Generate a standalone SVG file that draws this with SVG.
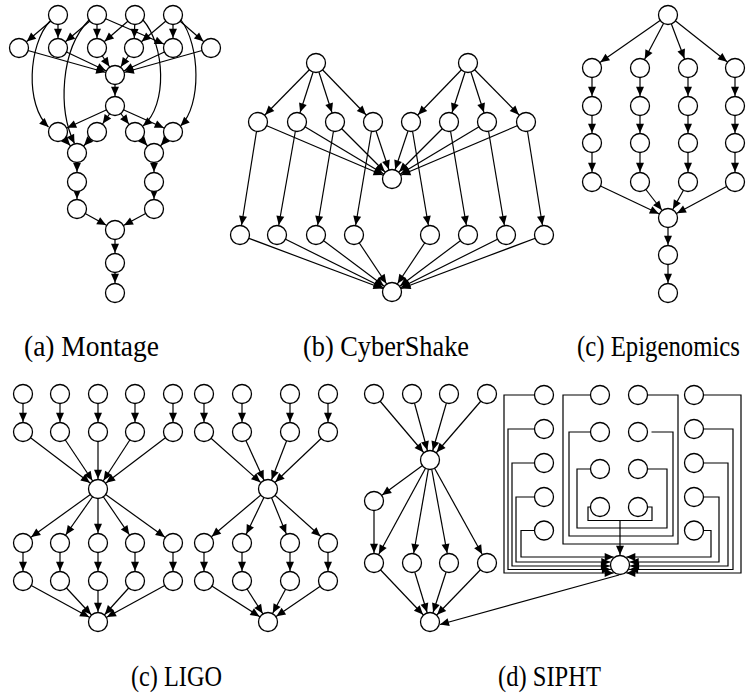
<svg xmlns="http://www.w3.org/2000/svg" width="750" height="697" viewBox="0 0 750 697">
<style>
  circle { fill: #fff; stroke: #000; stroke-width: 1.3; }
  .e { fill: none; stroke: #000; stroke-width: 1.2; marker-end: url(#ah); }
  .c { fill: none; stroke: #000; stroke-width: 1.2; marker-end: url(#ah0); }
  .w { fill: none; stroke: #000; stroke-width: 1.2; }
</style>
<defs>
  <!-- arrowhead whose tip stops on the rim of a r=9.5 node when the edge ends at the node centre -->
  <marker id="ah" markerUnits="userSpaceOnUse" orient="auto" refX="10.2" refY="0" markerWidth="12" markerHeight="10" overflow="visible">
    <path d="M0,0 L-9,-4 L-9,4 Z" fill="#000"/>
  </marker>
  <!-- arrowhead whose tip sits exactly on the path end -->
  <marker id="ah0" markerUnits="userSpaceOnUse" orient="auto" refX="0" refY="0" markerWidth="12" markerHeight="10" overflow="visible">
    <path d="M0,0 L-9,-4 L-9,4 Z" fill="#000"/>
  </marker>
</defs>

<g id="connectors">
  <!-- Montage -->
  <path class="e" d="M58,15 L19,48"/>
  <path class="e" d="M58,15 L58,48"/>
  <path class="e" d="M97,15 L58,48"/>
  <path class="e" d="M97,15 L97,48"/>
  <path class="e" d="M97,15 L173,48"/>
  <path class="e" d="M135,15 L97,48"/>
  <path class="e" d="M135,15 L134,48"/>
  <path class="e" d="M173,15 L134,48"/>
  <path class="e" d="M173,15 L173,48"/>
  <path class="e" d="M173,15 L211,48"/>
  <path class="c" d="M50,21 C28,45 25,105 48.5,127"/>
  <path class="c" d="M89,20 C60,50 58,110 74.5,143.5"/>
  <path class="c" d="M143,20 C165,45 168,105 143,126"/>
  <path class="c" d="M181,20 C200,45 202,105 180.5,126"/>
  <path class="e" d="M19,48 L115,75"/>
  <path class="e" d="M58,48 L115,75"/>
  <path class="e" d="M97,48 L115,75"/>
  <path class="e" d="M134,48 L115,75"/>
  <path class="e" d="M173,48 L115,75"/>
  <path class="e" d="M211,48 L115,75"/>
  <path class="e" d="M115,75 L115,106"/>
  <path class="e" d="M115,106 L58,132"/>
  <path class="e" d="M115,106 L97,132"/>
  <path class="e" d="M115,106 L135,132"/>
  <path class="e" d="M115,106 L173,132"/>
  <path class="e" d="M58,132 L77,153"/>
  <path class="e" d="M97,132 L77,153"/>
  <path class="e" d="M135,132 L154,153"/>
  <path class="e" d="M173,132 L154,153"/>
  <path class="e" d="M77,153 L77,182"/>
  <path class="e" d="M154,153 L154,182"/>
  <path class="e" d="M77,182 L77,209"/>
  <path class="e" d="M154,182 L154,209"/>
  <path class="e" d="M77,209 L115,230"/>
  <path class="e" d="M154,209 L115,230"/>
  <path class="e" d="M115,230 L115,263"/>
  <path class="e" d="M115,263 L115,293"/>

  <!-- CyberShake -->
  <path class="e" d="M316,63 L258,122"/>
  <path class="e" d="M316,63 L297,122"/>
  <path class="e" d="M316,63 L335,122"/>
  <path class="e" d="M316,63 L373,122"/>
  <path class="e" d="M468,63 L411,122"/>
  <path class="e" d="M468,63 L449,122"/>
  <path class="e" d="M468,63 L487,122"/>
  <path class="e" d="M468,63 L526,122"/>
  <path class="e" d="M258,122 L392,179"/>
  <path class="e" d="M297,122 L392,179"/>
  <path class="e" d="M335,122 L392,179"/>
  <path class="e" d="M373,122 L392,179"/>
  <path class="e" d="M411,122 L392,179"/>
  <path class="e" d="M449,122 L392,179"/>
  <path class="e" d="M487,122 L392,179"/>
  <path class="e" d="M526,122 L392,179"/>
  <path class="e" d="M258,122 L240,235"/>
  <path class="e" d="M297,122 L277,235"/>
  <path class="e" d="M335,122 L316,235"/>
  <path class="e" d="M373,122 L354,235"/>
  <path class="e" d="M411,122 L430,235"/>
  <path class="e" d="M449,122 L468,235"/>
  <path class="e" d="M487,122 L506,235"/>
  <path class="e" d="M526,122 L544,235"/>
  <path class="e" d="M240,235 L392,292"/>
  <path class="e" d="M277,235 L392,292"/>
  <path class="e" d="M316,235 L392,292"/>
  <path class="e" d="M354,235 L392,292"/>
  <path class="e" d="M430,235 L392,292"/>
  <path class="e" d="M468,235 L392,292"/>
  <path class="e" d="M506,235 L392,292"/>
  <path class="e" d="M544,235 L392,292"/>

  <!-- Epigenomics -->
  <path class="e" d="M668,15 L592,68"/>
  <path class="e" d="M668,15 L640,68"/>
  <path class="e" d="M668,15 L688,68"/>
  <path class="e" d="M668,15 L735,68"/>
  <path class="e" d="M592,68 L592,106"/>
  <path class="e" d="M592,106 L592,143"/>
  <path class="e" d="M592,143 L592,182"/>
  <path class="e" d="M640,68 L640,106"/>
  <path class="e" d="M640,106 L640,143"/>
  <path class="e" d="M640,143 L640,182"/>
  <path class="e" d="M688,68 L688,106"/>
  <path class="e" d="M688,106 L688,143"/>
  <path class="e" d="M688,143 L688,182"/>
  <path class="e" d="M735,68 L735,106"/>
  <path class="e" d="M735,106 L735,143"/>
  <path class="e" d="M735,143 L735,182"/>
  <path class="e" d="M592,182 L668,218"/>
  <path class="e" d="M640,182 L668,218"/>
  <path class="e" d="M688,182 L668,218"/>
  <path class="e" d="M735,182 L668,218"/>
  <path class="e" d="M668,218 L668,255"/>
  <path class="e" d="M668,255 L668,293"/>

  <!-- LIGO, left block -->
  <path class="e" d="M23,394 L23,432"/>
  <path class="e" d="M60,394 L60,432"/>
  <path class="e" d="M98,394 L98,432"/>
  <path class="e" d="M135,394 L135,432"/>
  <path class="e" d="M173,394 L173,432"/>
  <path class="e" d="M23,432 L98,489"/>
  <path class="e" d="M60,432 L98,489"/>
  <path class="e" d="M98,432 L98,489"/>
  <path class="e" d="M135,432 L98,489"/>
  <path class="e" d="M173,432 L98,489"/>
  <path class="e" d="M98,489 L23,543"/>
  <path class="e" d="M98,489 L60,543"/>
  <path class="e" d="M98,489 L98,543"/>
  <path class="e" d="M98,489 L135,543"/>
  <path class="e" d="M98,489 L173,543"/>
  <path class="e" d="M23,543 L23,581"/>
  <path class="e" d="M60,543 L60,581"/>
  <path class="e" d="M98,543 L98,581"/>
  <path class="e" d="M135,543 L135,581"/>
  <path class="e" d="M173,543 L173,581"/>
  <path class="e" d="M23,581 L98,622"/>
  <path class="e" d="M60,581 L98,622"/>
  <path class="e" d="M98,581 L98,622"/>
  <path class="e" d="M135,581 L98,622"/>
  <path class="e" d="M173,581 L98,622"/>

  <!-- LIGO, right block -->
  <path class="e" d="M204,394 L204,432"/>
  <path class="e" d="M242,394 L242,432"/>
  <path class="e" d="M290,394 L290,432"/>
  <path class="e" d="M328,394 L328,432"/>
  <path class="e" d="M204,432 L268,489"/>
  <path class="e" d="M242,432 L268,489"/>
  <path class="e" d="M290,432 L268,489"/>
  <path class="e" d="M328,432 L268,489"/>
  <path class="e" d="M268,489 L204,543"/>
  <path class="e" d="M268,489 L242,543"/>
  <path class="e" d="M268,489 L290,543"/>
  <path class="e" d="M268,489 L328,543"/>
  <path class="e" d="M204,543 L204,581"/>
  <path class="e" d="M242,543 L242,581"/>
  <path class="e" d="M290,543 L290,581"/>
  <path class="e" d="M328,543 L328,581"/>
  <path class="e" d="M204,581 L268,622"/>
  <path class="e" d="M242,581 L268,622"/>
  <path class="e" d="M290,581 L268,622"/>
  <path class="e" d="M328,581 L268,622"/>

  <!-- SIPHT, left graph -->
  <path class="e" d="M374,394 L430,460"/>
  <path class="e" d="M412,394 L430,460"/>
  <path class="e" d="M449,394 L430,460"/>
  <path class="e" d="M487,394 L430,460"/>
  <path class="e" d="M430,460 L374,501"/>
  <path class="e" d="M374,501 L374,563"/>
  <path class="e" d="M430,460 L374,563"/>
  <path class="e" d="M430,460 L412,563"/>
  <path class="e" d="M430,460 L449,563"/>
  <path class="e" d="M430,460 L487,563"/>
  <path class="e" d="M374,563 L430,622"/>
  <path class="e" d="M412,563 L430,622"/>
  <path class="e" d="M449,563 L430,622"/>
  <path class="e" d="M487,563 L430,622"/>
  <path class="c" d="M619,575 L440,624.5"/>

  <!-- SIPHT, right block: orthogonal wires into the collector -->
  <path class="c" d="M534.5,395 H504 V573 H613.7"/>
  <path class="c" d="M534.5,429 H508 V569.5 H610.9"/>
  <path class="c" d="M534.5,463 H512 V566 H609.9"/>
  <path class="c" d="M534.5,497 H516 V562 H610.3"/>
  <path class="c" d="M534.5,530.5 H521 V557 H613.7"/>
  <path class="c" d="M703.5,395 H741 V573 H626.3"/>
  <path class="c" d="M703.5,429 H733 V569.5 H629.1"/>
  <path class="c" d="M703.5,463 H728 V566 H630.1"/>
  <path class="c" d="M703.5,497 H719 V562 H629.7"/>
  <path class="c" d="M703.5,530.5 H711 V557 H626.3"/>
  <path class="w" d="M590.5,395 H563 V544 H678 V395 H647.5"/>
  <path class="w" d="M590.5,432 H569 V536 H673 V432 H651.5"/>
  <path class="w" d="M590.5,469 H577 V528 H667 V469 H647.5"/>
  <path class="w" d="M590.5,507 H588 V520.5 H652 V507 H647.5"/>
  <path class="e" d="M620,520.5 L620,565"/>
</g>

<!-- Montage nodes -->
<g id="mt-t0"><circle cx="58" cy="15" r="9.5"/></g>
<g id="mt-t1"><circle cx="97" cy="15" r="9.5"/></g>
<g id="mt-t2"><circle cx="135" cy="15" r="9.5"/></g>
<g id="mt-t3"><circle cx="173" cy="15" r="9.5"/></g>
<g id="mt-d0"><circle cx="19" cy="48" r="9.5"/></g>
<g id="mt-d1"><circle cx="58" cy="48" r="9.5"/></g>
<g id="mt-d2"><circle cx="97" cy="48" r="9.5"/></g>
<g id="mt-d3"><circle cx="134" cy="48" r="9.5"/></g>
<g id="mt-d4"><circle cx="173" cy="48" r="9.5"/></g>
<g id="mt-d5"><circle cx="211" cy="48" r="9.5"/></g>
<g id="mt-concat"><circle cx="115" cy="75" r="9.5"/></g>
<g id="mt-model"><circle cx="115" cy="106" r="9.5"/></g>
<g id="mt-b0"><circle cx="58" cy="132" r="9.5"/></g>
<g id="mt-b1"><circle cx="97" cy="132" r="9.5"/></g>
<g id="mt-b2"><circle cx="135" cy="132" r="9.5"/></g>
<g id="mt-b3"><circle cx="173" cy="132" r="9.5"/></g>
<g id="mt-i0"><circle cx="77" cy="153" r="9.5"/></g>
<g id="mt-i1"><circle cx="154" cy="153" r="9.5"/></g>
<g id="mt-a0"><circle cx="77" cy="182" r="9.5"/></g>
<g id="mt-a1"><circle cx="154" cy="182" r="9.5"/></g>
<g id="mt-s0"><circle cx="77" cy="209" r="9.5"/></g>
<g id="mt-s1"><circle cx="154" cy="209" r="9.5"/></g>
<g id="mt-add"><circle cx="115" cy="230" r="9.5"/></g>
<g id="mt-shrink"><circle cx="115" cy="263" r="9.5"/></g>
<g id="mt-jpeg"><circle cx="115" cy="293" r="9.5"/></g>

<!-- CyberShake nodes -->
<g id="cs-r0"><circle cx="316" cy="63" r="9.5"/></g>
<g id="cs-r1"><circle cx="468" cy="63" r="9.5"/></g>
<g id="cs-x0"><circle cx="258" cy="122" r="9.5"/></g>
<g id="cs-x1"><circle cx="297" cy="122" r="9.5"/></g>
<g id="cs-x2"><circle cx="335" cy="122" r="9.5"/></g>
<g id="cs-x3"><circle cx="373" cy="122" r="9.5"/></g>
<g id="cs-x4"><circle cx="411" cy="122" r="9.5"/></g>
<g id="cs-x5"><circle cx="449" cy="122" r="9.5"/></g>
<g id="cs-x6"><circle cx="487" cy="122" r="9.5"/></g>
<g id="cs-x7"><circle cx="526" cy="122" r="9.5"/></g>
<g id="cs-mid"><circle cx="392" cy="179" r="9.5"/></g>
<g id="cs-p0"><circle cx="240" cy="235" r="9.5"/></g>
<g id="cs-p1"><circle cx="277" cy="235" r="9.5"/></g>
<g id="cs-p2"><circle cx="316" cy="235" r="9.5"/></g>
<g id="cs-p3"><circle cx="354" cy="235" r="9.5"/></g>
<g id="cs-p4"><circle cx="430" cy="235" r="9.5"/></g>
<g id="cs-p5"><circle cx="468" cy="235" r="9.5"/></g>
<g id="cs-p6"><circle cx="506" cy="235" r="9.5"/></g>
<g id="cs-p7"><circle cx="544" cy="235" r="9.5"/></g>
<g id="cs-sink"><circle cx="392" cy="292" r="9.5"/></g>

<!-- Epigenomics nodes -->
<g id="ep-split"><circle cx="668" cy="15" r="9.5"/></g>
<g id="ep-a0"><circle cx="592" cy="68" r="9.5"/></g>
<g id="ep-a1"><circle cx="592" cy="106" r="9.5"/></g>
<g id="ep-a2"><circle cx="592" cy="143" r="9.5"/></g>
<g id="ep-a3"><circle cx="592" cy="182" r="9.5"/></g>
<g id="ep-b0"><circle cx="640" cy="68" r="9.5"/></g>
<g id="ep-b1"><circle cx="640" cy="106" r="9.5"/></g>
<g id="ep-b2"><circle cx="640" cy="143" r="9.5"/></g>
<g id="ep-b3"><circle cx="640" cy="182" r="9.5"/></g>
<g id="ep-c0"><circle cx="688" cy="68" r="9.5"/></g>
<g id="ep-c1"><circle cx="688" cy="106" r="9.5"/></g>
<g id="ep-c2"><circle cx="688" cy="143" r="9.5"/></g>
<g id="ep-c3"><circle cx="688" cy="182" r="9.5"/></g>
<g id="ep-d0"><circle cx="735" cy="68" r="9.5"/></g>
<g id="ep-d1"><circle cx="735" cy="106" r="9.5"/></g>
<g id="ep-d2"><circle cx="735" cy="143" r="9.5"/></g>
<g id="ep-d3"><circle cx="735" cy="182" r="9.5"/></g>
<g id="ep-merge"><circle cx="668" cy="218" r="9.5"/></g>
<g id="ep-index"><circle cx="668" cy="255" r="9.5"/></g>
<g id="ep-pileup"><circle cx="668" cy="293" r="9.5"/></g>

<!-- LIGO nodes, left block -->
<g id="lg-a0"><circle cx="23" cy="394" r="9.5"/></g>
<g id="lg-a1"><circle cx="60" cy="394" r="9.5"/></g>
<g id="lg-a2"><circle cx="98" cy="394" r="9.5"/></g>
<g id="lg-a3"><circle cx="135" cy="394" r="9.5"/></g>
<g id="lg-a4"><circle cx="173" cy="394" r="9.5"/></g>
<g id="lg-b0"><circle cx="23" cy="432" r="9.5"/></g>
<g id="lg-b1"><circle cx="60" cy="432" r="9.5"/></g>
<g id="lg-b2"><circle cx="98" cy="432" r="9.5"/></g>
<g id="lg-b3"><circle cx="135" cy="432" r="9.5"/></g>
<g id="lg-b4"><circle cx="173" cy="432" r="9.5"/></g>
<g id="lg-hub0"><circle cx="98" cy="489" r="9.5"/></g>
<g id="lg-c0"><circle cx="23" cy="543" r="9.5"/></g>
<g id="lg-c1"><circle cx="60" cy="543" r="9.5"/></g>
<g id="lg-c2"><circle cx="98" cy="543" r="9.5"/></g>
<g id="lg-c3"><circle cx="135" cy="543" r="9.5"/></g>
<g id="lg-c4"><circle cx="173" cy="543" r="9.5"/></g>
<g id="lg-d0"><circle cx="23" cy="581" r="9.5"/></g>
<g id="lg-d1"><circle cx="60" cy="581" r="9.5"/></g>
<g id="lg-d2"><circle cx="98" cy="581" r="9.5"/></g>
<g id="lg-d3"><circle cx="135" cy="581" r="9.5"/></g>
<g id="lg-d4"><circle cx="173" cy="581" r="9.5"/></g>
<g id="lg-end0"><circle cx="98" cy="622" r="9.5"/></g>

<!-- LIGO nodes, right block -->
<g id="lg-e0"><circle cx="204" cy="394" r="9.5"/></g>
<g id="lg-e1"><circle cx="242" cy="394" r="9.5"/></g>
<g id="lg-e2"><circle cx="290" cy="394" r="9.5"/></g>
<g id="lg-e3"><circle cx="328" cy="394" r="9.5"/></g>
<g id="lg-f0"><circle cx="204" cy="432" r="9.5"/></g>
<g id="lg-f1"><circle cx="242" cy="432" r="9.5"/></g>
<g id="lg-f2"><circle cx="290" cy="432" r="9.5"/></g>
<g id="lg-f3"><circle cx="328" cy="432" r="9.5"/></g>
<g id="lg-hub1"><circle cx="268" cy="489" r="9.5"/></g>
<g id="lg-g0"><circle cx="204" cy="543" r="9.5"/></g>
<g id="lg-g1"><circle cx="242" cy="543" r="9.5"/></g>
<g id="lg-g2"><circle cx="290" cy="543" r="9.5"/></g>
<g id="lg-g3"><circle cx="328" cy="543" r="9.5"/></g>
<g id="lg-h0"><circle cx="204" cy="581" r="9.5"/></g>
<g id="lg-h1"><circle cx="242" cy="581" r="9.5"/></g>
<g id="lg-h2"><circle cx="290" cy="581" r="9.5"/></g>
<g id="lg-h3"><circle cx="328" cy="581" r="9.5"/></g>
<g id="lg-end1"><circle cx="268" cy="622" r="9.5"/></g>

<!-- SIPHT nodes, left graph -->
<g id="sp-t0"><circle cx="374" cy="394" r="9.5"/></g>
<g id="sp-t1"><circle cx="412" cy="394" r="9.5"/></g>
<g id="sp-t2"><circle cx="449" cy="394" r="9.5"/></g>
<g id="sp-t3"><circle cx="487" cy="394" r="9.5"/></g>
<g id="sp-hub"><circle cx="430" cy="460" r="9.5"/></g>
<g id="sp-side"><circle cx="374" cy="501" r="9.5"/></g>
<g id="sp-m0"><circle cx="374" cy="563" r="9.5"/></g>
<g id="sp-m1"><circle cx="412" cy="563" r="9.5"/></g>
<g id="sp-m2"><circle cx="449" cy="563" r="9.5"/></g>
<g id="sp-m3"><circle cx="487" cy="563" r="9.5"/></g>
<g id="sp-final"><circle cx="430" cy="622" r="9.5"/></g>

<!-- SIPHT nodes, right block -->
<g id="sp-a0"><circle cx="544" cy="395" r="9.5"/></g>
<g id="sp-a1"><circle cx="544" cy="429" r="9.5"/></g>
<g id="sp-a2"><circle cx="544" cy="463" r="9.5"/></g>
<g id="sp-a3"><circle cx="544" cy="497" r="9.5"/></g>
<g id="sp-a4"><circle cx="544" cy="530.5" r="9.5"/></g>
<g id="sp-b0"><circle cx="600" cy="395" r="9.5"/></g>
<g id="sp-b1"><circle cx="600" cy="432" r="9.5"/></g>
<g id="sp-b2"><circle cx="600" cy="469" r="9.5"/></g>
<g id="sp-b3"><circle cx="600" cy="507" r="9.5"/></g>
<g id="sp-c0"><circle cx="638" cy="395" r="9.5"/></g>
<g id="sp-c1"><circle cx="638" cy="432" r="9.5"/></g>
<g id="sp-c2"><circle cx="638" cy="469" r="9.5"/></g>
<g id="sp-c3"><circle cx="638" cy="507" r="9.5"/></g>
<g id="sp-d0"><circle cx="694" cy="395" r="9.5"/></g>
<g id="sp-d1"><circle cx="694" cy="429" r="9.5"/></g>
<g id="sp-d2"><circle cx="694" cy="463" r="9.5"/></g>
<g id="sp-d3"><circle cx="694" cy="497" r="9.5"/></g>
<g id="sp-d4"><circle cx="694" cy="530.5" r="9.5"/></g>
<g id="sp-collect"><circle cx="620" cy="565" r="9.5"/></g>

<!-- captions -->
<g id="captions" font-size="29" fill="#000">
  <text x="24" y="356" font-family="Liberation Serif, serif" textLength="135" lengthAdjust="spacingAndGlyphs">(a) Montage</text>
  <text x="303" y="356" font-family="Liberation Serif, serif" textLength="166" lengthAdjust="spacingAndGlyphs">(b) CyberShake</text>
  <text x="577" y="356" font-family="Liberation Serif, serif" textLength="163" lengthAdjust="spacingAndGlyphs">(c) Epigenomics</text>
  <text x="131" y="686" font-family="Liberation Serif, serif" textLength="91" lengthAdjust="spacingAndGlyphs">(c) LIGO</text>
  <text x="498" y="686" font-family="Liberation Serif, serif" textLength="103" lengthAdjust="spacingAndGlyphs">(d) SIPHT</text>
</g>
</svg>
